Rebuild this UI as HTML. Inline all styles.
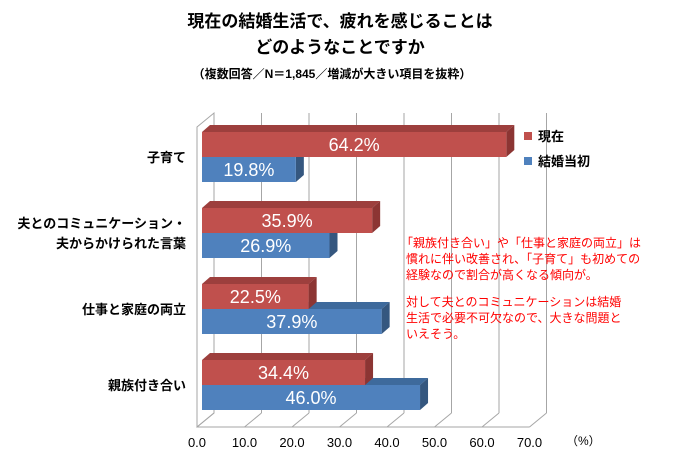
<!DOCTYPE html>
<html><head><meta charset="utf-8"><style>
body{margin:0;background:#fff;}
svg{display:block;font-family:"Liberation Sans","Noto Sans CJK JP",sans-serif;}
</style></head><body>
<svg id="chart" width="680" height="466">
<text x="340" y="27" text-anchor="middle" font-size="17" font-weight="bold">現在の結婚生活で、疲れを感じることは</text>
<text x="340" y="53" text-anchor="middle" font-size="17" font-weight="bold">どのようなことですか</text>
<text x="332" y="78" text-anchor="middle" font-size="12" font-weight="bold">（複数回答／N＝1,845／増減が大きい項目を抜粋）</text>
<g id="grid"></g><g id="bars"></g><g id="labels"></g>
<g>
<rect x="524" y="132" width="8" height="8" fill="#c0504d"/>
<text x="538" y="141" font-size="13" font-weight="bold">現在</text>
<rect x="524" y="157" width="8" height="8" fill="#4f81bd"/>
<text x="538" y="166" font-size="13" font-weight="bold">結婚当初</text>
</g>
<g fill="#ff0000" font-size="12">
<text x="401" y="247">「親族付き合い」や「仕事と家庭の両立」は</text>
<text x="406" y="263">慣れに伴い改善され、「子育て」も初めての</text>
<text x="406" y="279">経験なので割合が高くなる傾向が。</text>
<text x="406" y="306">対して夫とのコミュニケーションは結婚</text>
<text x="406" y="322">生活で必要不可欠なので、大きな問題と</text>
<text x="406" y="338">いえそう。</text>
</g>
<text x="566" y="445" font-size="12">（%）</text>
</svg>
<script>
const categories=["子育て","夫とのコミュニケーション・\n夫からかけられた言葉","仕事と家庭の両立","親族付き合い"];
const currentValues=[64.2,35.9,22.5,34.4];
const initialValues=[19.8,26.9,37.9,46.0];
const tickLabels=["0.0","10.0","20.0","30.0","40.0","50.0","60.0","70.0"];
const tickValues=[0,10,20,30,40,50,60,70];
const NS="http://www.w3.org/2000/svg";
function mk(tag,attrs,parent){const e=document.createElementNS(NS,tag);for(const k in attrs)e.setAttribute(k,attrs[k]);parent.appendChild(e);return e;}
const x0=202,k=4.74;
function xs(v){return x0+v*k;}
const gx0=197,gk=4.75;
function gxs(v){return gx0+v*gk;}
const grid=document.getElementById('grid'),bars=document.getElementById('bars'),labels=document.getElementById('labels');
let lw=mk('polygon',{points:"197,127 214,113 214,413 197,427",fill:"none",stroke:"#a6a6a6"},grid);


tickValues.forEach((t,i)=>{
 const fx=gxs(t),bx=fx+17;
 let g=mk('line',{x1:bx,y1:113,x2:bx,y2:413,stroke:"#a6a6a6"},grid);
 
 
 let d=mk('line',{x1:fx,y1:427,x2:bx,y2:413,stroke:"#a6a6a6"},grid);
 
 
 let tl=mk('text',{x:fx,y:447,"text-anchor":"middle","font-size":"13"},labels);
 tl.textContent=tickLabels[i];
 
 
});
let fl=mk('line',{x1:197,y1:427,x2:gxs(70),y2:427,stroke:"#a6a6a6"},grid);


const dx=8,dy=7,bh=25,gap=76,top0=132;
function barBack(v,y,side,topc,name){
 const x2=xs(v);
 let t=mk('polygon',{points:`${x0},${y} ${x0+dx},${y-dy} ${x2+dx},${y-dy} ${x2},${y}`,fill:topc},bars);
 
 
 let s=mk('polygon',{points:`${x2},${y} ${x2+dx},${y-dy} ${x2+dx},${y+bh-dy} ${x2},${y+bh}`,fill:side},bars);
 
 
}
function barFront(v,y,col,name){
 const x2=xs(v);
 let r=mk('rect',{x:x0,y:y,width:x2-x0,height:bh,fill:col},bars);
 
 
 let l=mk('text',{x:(x0+x2)/2,y:y+19,"text-anchor":"middle","font-size":"18",fill:"#fff"},labels);
 l.textContent=v.toFixed(1)+"%";
 
 
}
categories.forEach((c,i)=>{
 const y=top0+i*gap;
 barBack(initialValues[i],y+bh,"#35577f","#3e6a9c","bar-initial-"+i);
 barBack(currentValues[i],y,"#8c3533","#9d3f3d","bar-current-"+i);
 barFront(currentValues[i],y,"#c0504d","bar-current-"+i);
 barFront(initialValues[i],y+bh,"#4f81bd","bar-initial-"+i);
 const lines=c.split("\n");
 lines.forEach((ln,j)=>{
  let t=mk('text',{x:186,y:y+bh+5+(j-(lines.length-1)/2)*20,"text-anchor":"end","font-size":"13","font-weight":"bold"},labels);
  t.textContent=ln;
  
  
 });
});
</script>
</body></html>
